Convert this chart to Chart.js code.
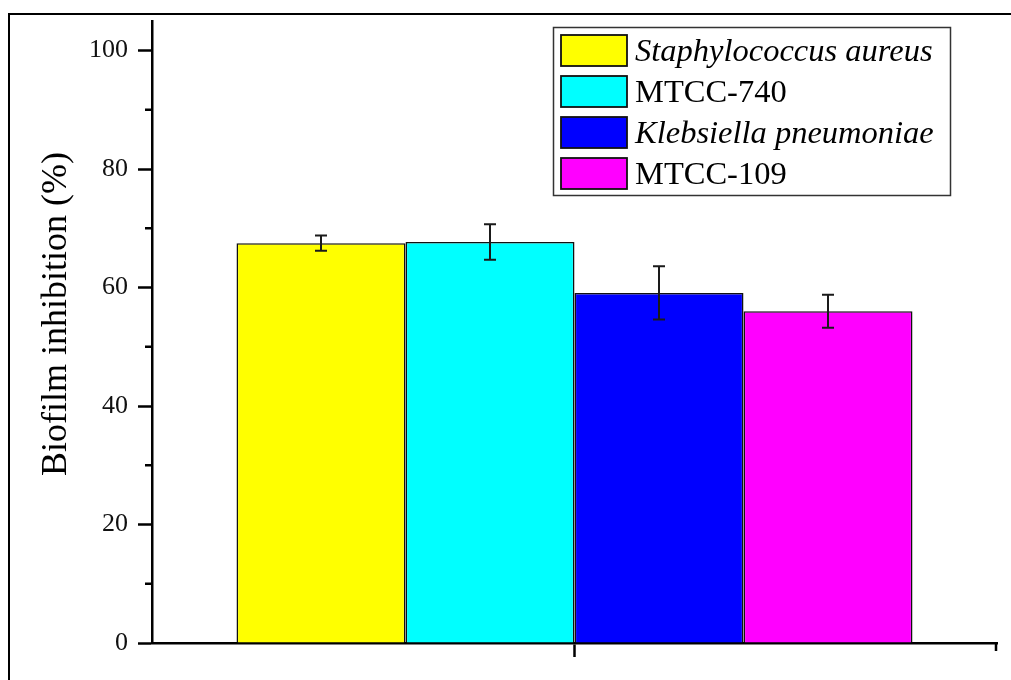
<!DOCTYPE html>
<html>
<head>
<meta charset="utf-8">
<script src="https://cdn.jsdelivr.net/npm/chart.js@4.4.1/dist/chart.umd.min.js"></script>
<style>
    html, body { margin: 0; padding: 0; background: #fff; }
    #wrap { position: relative; width: 1011px; height: 680px; }
</style>
</head>
<body>
<div id="wrap">
    <canvas id="biofilmChart" width="1011" height="680"></canvas>
</div>
<script>
// Chart data
const groupLabels = [''];
const strainNames = ['Staphylococcus aureus', 'MTCC-740', 'Klebsiella pneumoniae', 'MTCC-109'];
const inhibition = [67.5, 67.7, 59.1, 56.0];
const inhibitionErr = [1.3, 3.0, 4.5, 2.8];
const yTicks = [0, 20, 40, 60, 80, 100];
const yMinorTicks = [10, 30, 50, 70, 90];

// Styling
const barColors = ['#ffff00', '#00ffff', '#0000ff', '#ff00ff'];
const italicNames = [true, false, true, false];
const serif = "'Liberation Serif', 'Times New Roman', serif";

// Error bars drawn from the y scale
const errorBarPlugin = {
    id: 'errorBars',
    afterDatasetsDraw(chart) {
        const ctx = chart.ctx;
        const yScale = chart.scales.y;
        ctx.save();
        ctx.strokeStyle = '#1a1a1a';
        ctx.lineWidth = 2;
        chart.data.datasets.forEach((ds, i) => {
            const bar = chart.getDatasetMeta(i).data[0];
            if (!bar) return;
            const v = ds.data[0];
            const e = inhibitionErr[i];
            const yTop = yScale.getPixelForValue(v + e);
            const yBot = yScale.getPixelForValue(v - e);
            const x = bar.x;
            ctx.beginPath();
            ctx.moveTo(x, yTop); ctx.lineTo(x, yBot);
            ctx.moveTo(x - 6, yTop); ctx.lineTo(x + 6, yTop);
            ctx.moveTo(x - 6, yBot); ctx.lineTo(x + 6, yBot);
            ctx.stroke();
        });
        ctx.restore();
    }
};

// Frame, minor ticks, axis title and legend box
const decorPlugin = {
    id: 'decor',
    beforeDraw(chart) {
        const ctx = chart.ctx;
        ctx.save();
        ctx.strokeStyle = '#000';
        ctx.lineWidth = 2;
        ctx.beginPath();
        ctx.moveTo(9, 680);
        ctx.lineTo(9, 14);
        ctx.lineTo(1011, 14);
        ctx.stroke();
        ctx.restore();
    },
    afterDraw(chart) {
        const ctx = chart.ctx;
        const yScale = chart.scales.y;
        const area = chart.chartArea;
        ctx.save();

        // minor ticks on y
        ctx.strokeStyle = '#000';
        ctx.lineWidth = 2.5;
        ctx.beginPath();
        yMinorTicks.forEach(v => {
            const y = yScale.getPixelForValue(v);
            ctx.moveTo(area.left - 7, y);
            ctx.lineTo(area.left, y);
        });
        // end tick on x axis
        ctx.moveTo(area.right - 1, area.bottom);
        ctx.lineTo(area.right - 1, area.bottom + 8);
        ctx.stroke();

        // y axis title
        ctx.fillStyle = '#000';
        ctx.font = `36px ${serif}`;
        ctx.textAlign = 'center';
        ctx.textBaseline = 'middle';
        ctx.translate(57, 314);
        ctx.rotate(-Math.PI / 2);
        ctx.fillText('Biofilm inhibition (%)', 0, 0);
        ctx.setTransform(1, 0, 0, 1, 0, 0);

        // legend
        const lx = 553, ly = 27, lw = 397, lh = 168;
        ctx.lineWidth = 1.5;
        ctx.strokeStyle = '#333';
        ctx.strokeRect(lx + 0.5, ly + 0.5, lw, lh);
        ctx.textAlign = 'left';
        ctx.textBaseline = 'middle';
        chart.data.datasets.forEach((ds, i) => {
            const rowY = 35 + i * 41;
            ctx.fillStyle = ds.backgroundColor;
            ctx.fillRect(561, rowY, 66, 31);
            ctx.lineWidth = 1.8;
            ctx.strokeStyle = '#111';
            ctx.strokeRect(561, rowY, 66, 31);
            ctx.fillStyle = '#000';
            ctx.font = `${italicNames[i] ? 'italic ' : ''}32.5px ${serif}`;
            ctx.fillText(ds.label, 635, rowY + 17);
        });
        ctx.restore();
    }
};

const datasets = strainNames.map((name, i) => ({
    label: name,
    data: [inhibition[i]],
    backgroundColor: barColors[i],
    borderColor: '#111',
    borderWidth: 1.6,
    categoryPercentage: 0.8,
    barPercentage: 1.0
}));

new Chart(document.getElementById('biofilmChart').getContext('2d'), {
    type: 'bar',
    data: { labels: groupLabels, datasets },
    options: {
        responsive: false,
        animation: false,
        devicePixelRatio: 1,
        layout: { padding: { top: 21, right: 14, bottom: 23, left: 0 } },
        plugins: {
            legend: { display: false },
            tooltip: { enabled: false }
        },
        scales: {
            x: {
                offset: true,
                grid: {
                    offset: false,
                    drawOnChartArea: false,
                    drawTicks: true,
                    tickLength: 14,
                    tickColor: '#000',
                    tickWidth: 2.5
                },
                border: { display: true, color: '#000', width: 2.5 },
                ticks: { display: false }
            },
            y: {
                min: 0,
                max: 105,
                afterBuildTicks: scale => {
                    scale.ticks = yTicks.map(v => ({ value: v }));
                },
                afterFit: scale => {
                    scale.width = 152;
                    scale.paddingTop = 0;
                    scale.paddingBottom = 0;
                },
                grid: {
                    drawOnChartArea: false,
                    drawTicks: true,
                    tickLength: 14,
                    tickColor: '#000',
                    tickWidth: 2.5
                },
                border: { display: true, color: '#000', width: 2.5 },
                ticks: {
                    color: '#111',
                    padding: 10,
                    font: { family: serif, size: 26 }
                }
            }
        }
    },
    plugins: [errorBarPlugin, decorPlugin]
});
</script>
</body>
</html>
